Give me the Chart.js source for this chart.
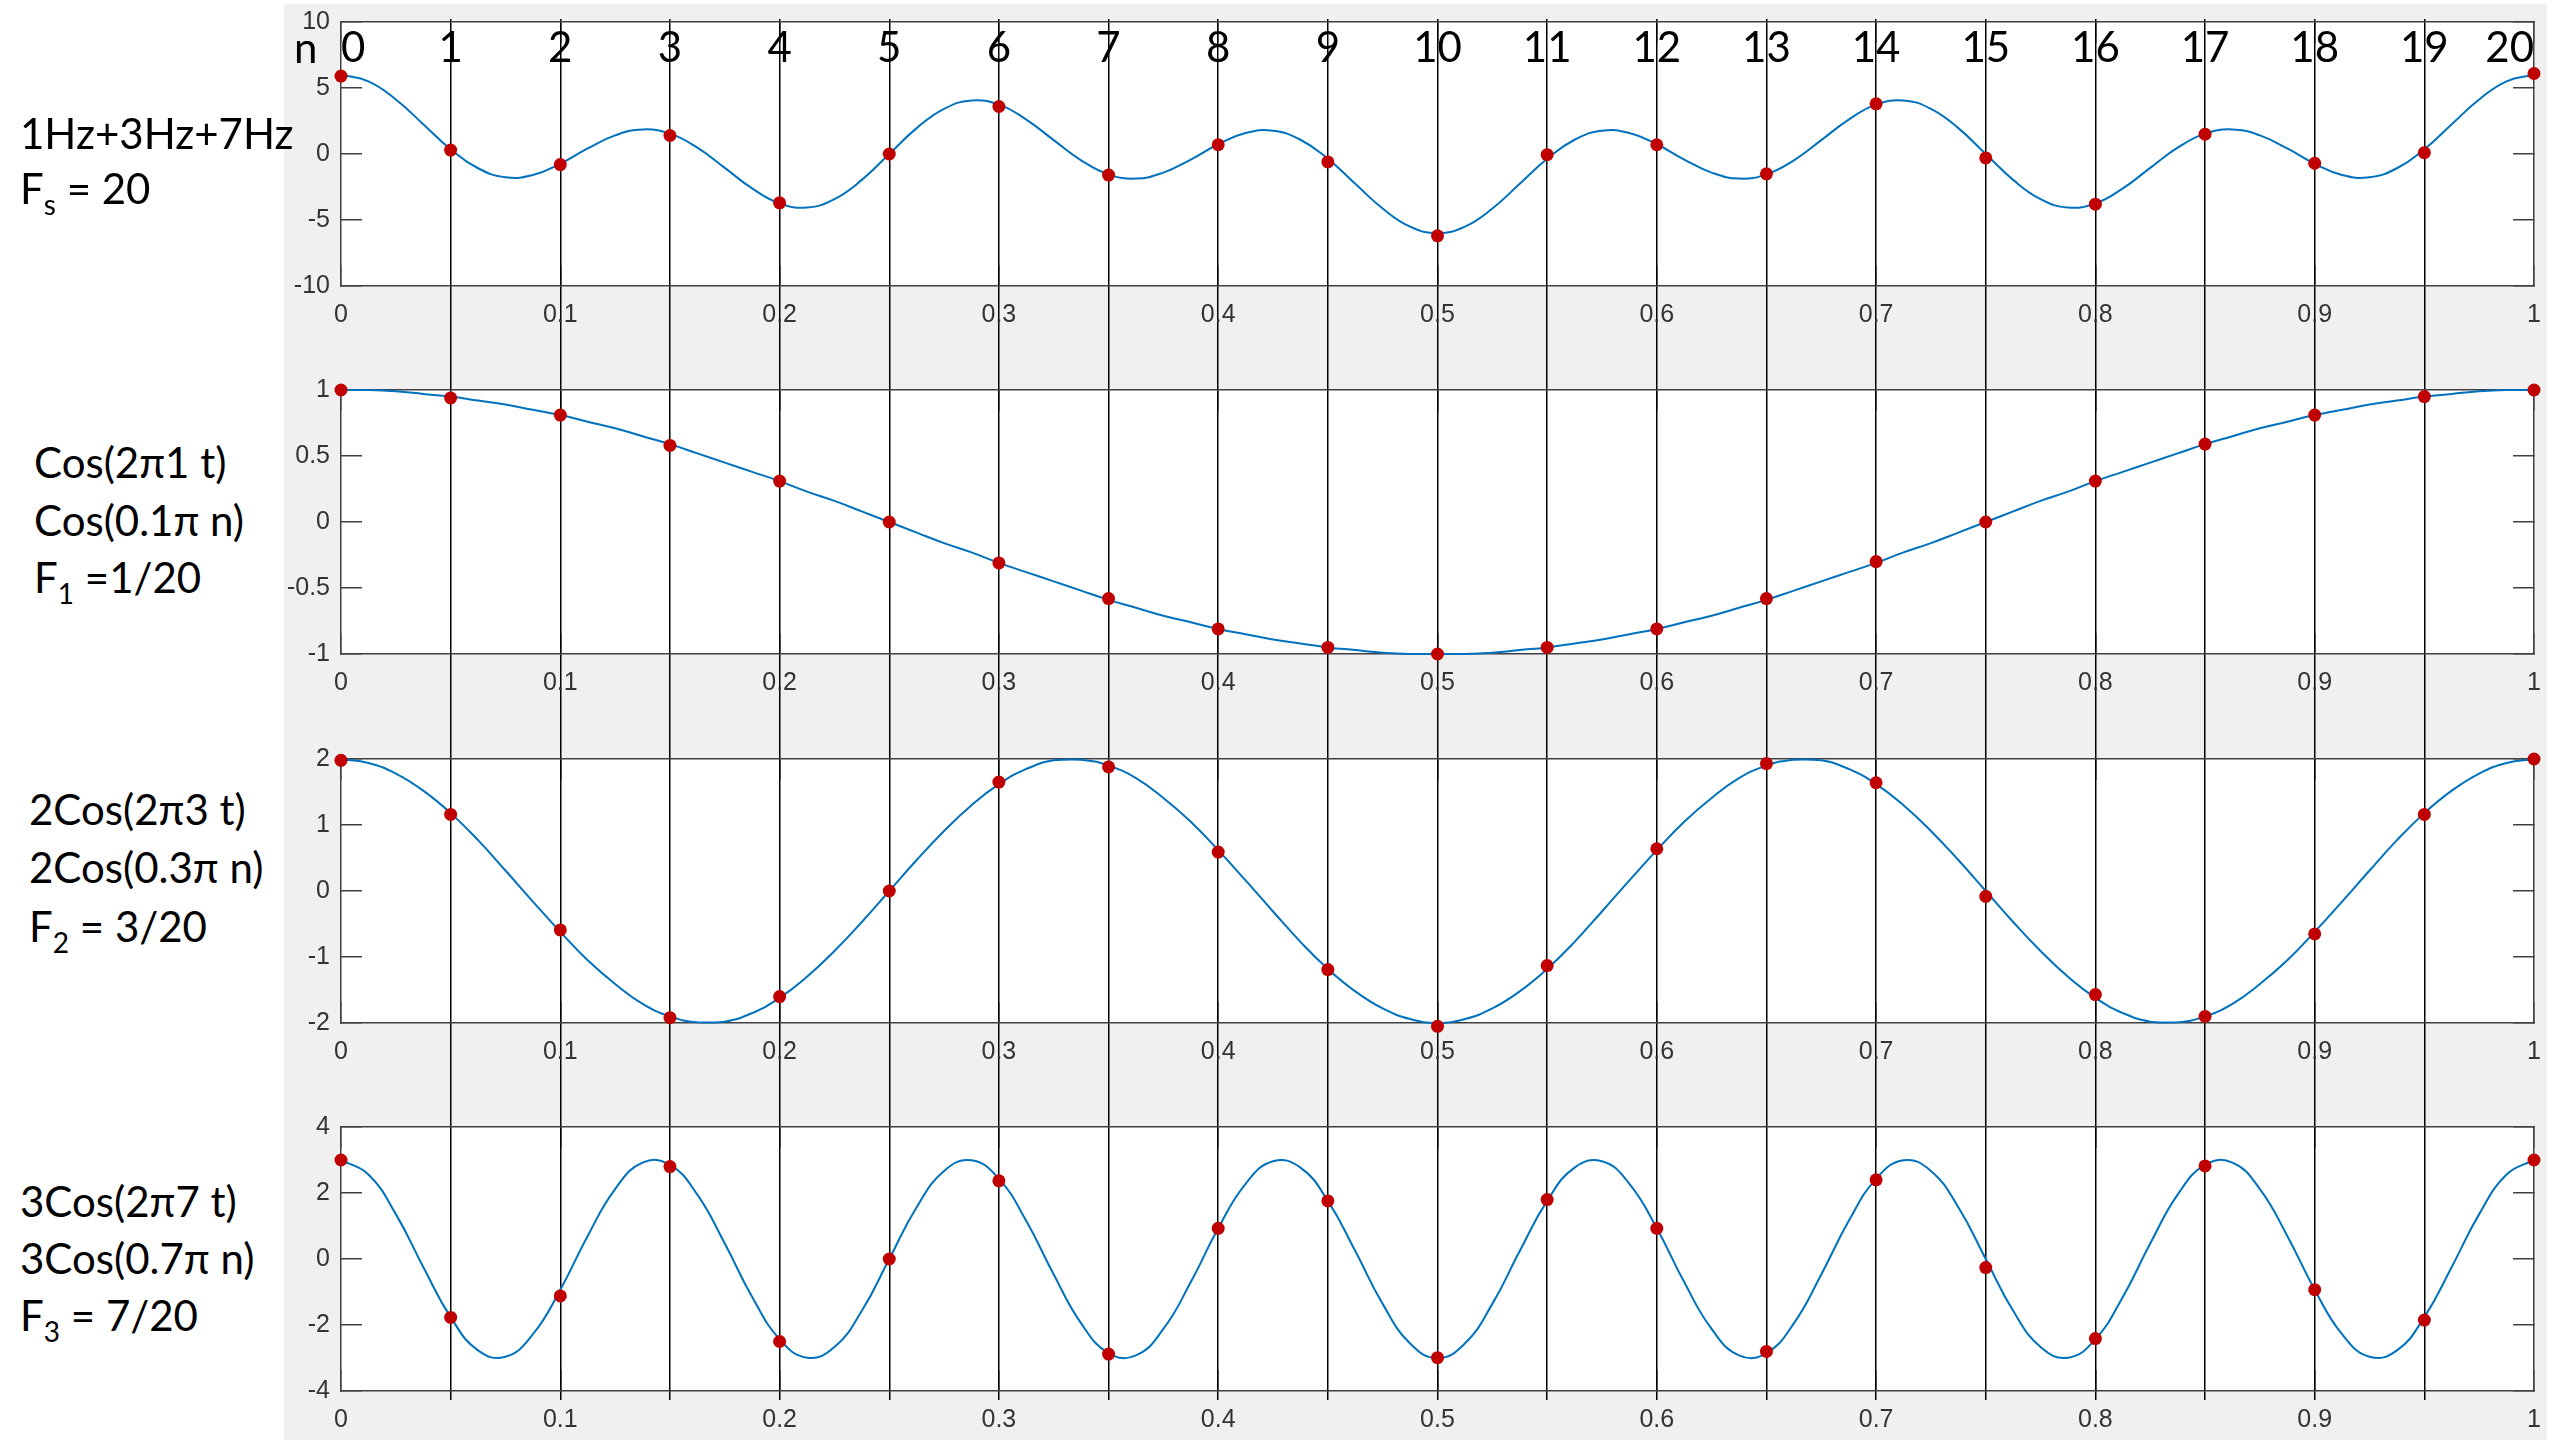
<!DOCTYPE html>
<html>
<head>
<meta charset="utf-8">
<script src="https://cdn.jsdelivr.net/npm/chart.js@4.4.0/dist/chart.umd.min.js"></script>
<style>
  html, body { margin: 0; padding: 0; background: #fff; overflow: hidden; }
  #fig { position: relative; width: 2554px; height: 1440px; }
  #grayBg { position: absolute; left: 284px; top: 4px; width: 2263px; height: 1436px; background: #f0f0f0; }
  canvas { position: absolute; left: 284px; }
  .lbl { position: absolute; font-family: Lato, 'Open Sans', sans-serif; font-size: 42px; line-height: 50px; color: #000; white-space: nowrap; }
  .lbl .sub { font-size: 28px; line-height: 0; position: relative; top: 11px; }
</style>
</head>
<body>
<div id="fig">
  <div id="grayBg"></div>
  <canvas id="overlay" width="2263" height="1440" style="top:0"></canvas>
  <canvas id="p1" width="2263" height="336" style="top:0"></canvas>
  <canvas id="p2" width="2263" height="336" style="top:368px"></canvas>
  <canvas id="p3" width="2263" height="336" style="top:737px"></canvas>
  <canvas id="p4" width="2263" height="336" style="top:1105px"></canvas>

  <div class="lbl" style="left:294px;top:22px">n</div>

  <div class="lbl" style="left:20px;top:108px">1Hz+3Hz+7Hz</div>
  <div class="lbl" style="left:20px;top:163px">F<span class="sub">s</span> = 20</div>

  <div class="lbl" style="left:34px;top:437px">Cos(2π1 t)</div>
  <div class="lbl" style="left:34px;top:495px">Cos(0.1π n)</div>
  <div class="lbl" style="left:34px;top:552px">F<span class="sub">1</span> =1/20</div>

  <div class="lbl" style="left:29px;top:784px">2Cos(2π3 t)</div>
  <div class="lbl" style="left:29px;top:842px">2Cos(0.3π n)</div>
  <div class="lbl" style="left:29px;top:901px">F<span class="sub">2</span> = 3/20</div>

  <div class="lbl" style="left:20px;top:1176px">3Cos(2π7 t)</div>
  <div class="lbl" style="left:20px;top:1233px">3Cos(0.7π n)</div>
  <div class="lbl" style="left:20px;top:1290px">F<span class="sub">3</span> = 7/20</div>
</div>

<script>
// sample instants (t = n / 20) and their n labels
const tSamples = [0, 0.05, 0.1, 0.15, 0.2, 0.25, 0.3, 0.35, 0.4, 0.45, 0.5,
  0.55, 0.6, 0.65, 0.7, 0.75, 0.8, 0.85, 0.9, 0.95, 1];
const nLabels = ['0', '1', '2', '3', '4', '5', '6', '7', '8', '9', '10',
  '11', '12', '13', '14', '15', '16', '17', '18', '19', '20'];

// time axis ticks
const xTicks = [0, 0.1, 0.2, 0.3, 0.4, 0.5, 0.6, 0.7, 0.8, 0.9, 1];

// y ticks of each panel
const yTicks1 = [-10, -5, 0, 5, 10];
const yTicks2 = [-1, -0.5, 0, 0.5, 1];
const yTicks3 = [-2, -1, 0, 1, 2];
const yTicks4 = [-4, -2, 0, 2, 4];

// time points of the continuous (blue) curves
const tFine = [0, 0.0125, 0.025, 0.0375, 0.05, 0.0625, 0.075, 0.0875, 0.1, 0.1125,
  0.125, 0.1375, 0.15, 0.1625, 0.175, 0.1875, 0.2, 0.2125, 0.225, 0.2375,
  0.25, 0.2625, 0.275, 0.2875, 0.3, 0.3125, 0.325, 0.3375, 0.35, 0.3625,
  0.375, 0.3875, 0.4, 0.4125, 0.425, 0.4375, 0.45, 0.4625, 0.475, 0.4875,
  0.5, 0.5125, 0.525, 0.5375, 0.55, 0.5625, 0.575, 0.5875, 0.6, 0.6125,
  0.625, 0.6375, 0.65, 0.6625, 0.675, 0.6875, 0.7, 0.7125, 0.725, 0.7375,
  0.75, 0.7625, 0.775, 0.7875, 0.8, 0.8125, 0.825, 0.8375, 0.85, 0.8625,
  0.875, 0.8875, 0.9, 0.9125, 0.925, 0.9375, 0.95, 0.9625, 0.975, 0.9875, 1];

// continuous signals
const sumCurve = [6, 5.50, 4.13, 2.26, 0.36, -1.08, -1.76, -1.59, -0.74, 0.42,
  1.41, 1.86, 1.54, 0.48, -1.05, -2.61, -3.74, -4.06, -3.42, -1.96,
  0, 1.96, 3.42, 4.06, 3.74, 2.61, 1.05, -0.48, -1.54, -1.86,
  -1.41, -0.42, 0.74, 1.59, 1.76, 1.08, -0.36, -2.26, -4.13, -5.50,
  -6, -5.50, -4.13, -2.26, -0.36, 1.08, 1.76, 1.59, 0.74, -0.42,
  -1.41, -1.86, -1.54, -0.48, 1.05, 2.61, 3.74, 4.06, 3.42, 1.96,
  0, -1.96, -3.42, -4.06, -3.74, -2.61, -1.05, 0.48, 1.54, 1.86,
  1.41, 0.42, -0.74, -1.59, -1.76, -1.08, 0.36, 2.26, 4.13, 5.50, 6];
const cos1Curve = [1, 1.00, 0.99, 0.97, 0.95, 0.92, 0.89, 0.85, 0.81, 0.76,
  0.71, 0.65, 0.59, 0.52, 0.45, 0.38, 0.31, 0.23, 0.16, 0.08,
  0, -0.08, -0.16, -0.23, -0.31, -0.38, -0.45, -0.52, -0.59, -0.65,
  -0.71, -0.76, -0.81, -0.85, -0.89, -0.92, -0.95, -0.97, -0.99, -1.00,
  -1, -1.00, -0.99, -0.97, -0.95, -0.92, -0.89, -0.85, -0.81, -0.76,
  -0.71, -0.65, -0.59, -0.52, -0.45, -0.38, -0.31, -0.23, -0.16, -0.08,
  0, 0.08, 0.16, 0.23, 0.31, 0.38, 0.45, 0.52, 0.59, 0.65,
  0.71, 0.76, 0.81, 0.85, 0.89, 0.92, 0.95, 0.97, 0.99, 1.00, 1];
const cos3Curve = [2, 1.94, 1.78, 1.52, 1.18, 0.77, 0.31, -0.16, -0.62, -1.05,
  -1.41, -1.71, -1.90, -1.99, -1.98, -1.85, -1.62, -1.30, -0.91, -0.47,
  0, 0.47, 0.91, 1.30, 1.62, 1.85, 1.98, 1.99, 1.90, 1.71,
  1.41, 1.05, 0.62, 0.16, -0.31, -0.77, -1.18, -1.52, -1.78, -1.94,
  -2, -1.94, -1.78, -1.52, -1.18, -0.77, -0.31, 0.16, 0.62, 1.05,
  1.41, 1.71, 1.90, 1.99, 1.98, 1.85, 1.62, 1.30, 0.91, 0.47,
  0, -0.47, -0.91, -1.30, -1.62, -1.85, -1.98, -1.99, -1.90, -1.71,
  -1.41, -1.05, -0.62, -0.16, 0.31, 0.77, 1.18, 1.52, 1.78, 1.94, 2];
const cos7Curve = [3, 2.56, 1.36, -0.24, -1.76, -2.77, -2.96, -2.28, -0.93, 0.70,
  2.12, 2.92, 2.85, 1.95, 0.47, -1.15, -2.43, -2.99, -2.67, -1.57,
  0, 1.57, 2.67, 2.99, 2.43, 1.15, -0.47, -1.95, -2.85, -2.92,
  -2.12, -0.70, 0.93, 2.28, 2.96, 2.77, 1.76, 0.24, -1.36, -2.56,
  -3, -2.56, -1.36, 0.24, 1.76, 2.77, 2.96, 2.28, 0.93, -0.70,
  -2.12, -2.92, -2.85, -1.95, -0.47, 1.15, 2.43, 2.99, 2.67, 1.57,
  0, -1.57, -2.67, -2.99, -2.43, -1.15, 0.47, 1.95, 2.85, 2.92,
  2.12, 0.70, -0.93, -2.28, -2.96, -2.77, -1.76, -0.24, 1.36, 2.56, 3];

// sampled values (red dots)
const sumSamples = [5.9, 0.3, -0.8, 1.4, -3.7, 0, 3.6, -1.6, 0.7, -0.6, -6.2,
  -0.05, 0.7, -1.5, 3.8, -0.3, -3.8, 1.5, -0.7, 0.1, 6.1];
const cos1Samples = [1, 0.94, 0.81, 0.58, 0.31, 0, -0.31, -0.58, -0.81, -0.95, -1,
  -0.95, -0.81, -0.58, -0.3, 0, 0.31, 0.59, 0.81, 0.95, 1];
const cos3Samples = [1.98, 1.16, -0.59, -1.92, -1.6, 0, 1.65, 1.88, 0.59, -1.19, -2.05,
  -1.13, 0.64, 1.93, 1.64, -0.08, -1.57, -1.9, -0.65, 1.16, 2];
const cos7Samples = [3, -1.77, -1.12, 2.8, -2.5, 0, 2.37, -2.88, 0.93, 1.76, -2.99,
  1.8, 0.93, -2.8, 2.4, -0.26, -2.41, 2.82, -0.93, -1.85, 3];

// styles
var axisColor = '#404040';
var tickFont = { family: "'Liberation Sans', Arial, sans-serif", size: 25 };
var nFont = { family: "Lato, 'Open Sans', sans-serif", size: 42 };

// white plot box behind everything
var plotBg = {
  id: 'plotBg',
  beforeDraw: function (chart) {
    var a = chart.chartArea, ctx = chart.ctx;
    ctx.save();
    ctx.fillStyle = '#fff';
    ctx.fillRect(a.left, a.top, a.right - a.left, a.bottom - a.top);
    ctx.restore();
  }
};

function pts(xs, ys) {
  return xs.map(function (x, i) { return { x: x, y: ys[i] }; });
}
function setTicks(vals) {
  return function (s) { s.ticks = vals.map(function (v) { return { value: v }; }); };
}
// fixed axis box, and no extra room for labels that hang past the ends
function fixSize(w, h) {
  return function (s) {
    if (w !== null) s.width = w;
    if (h !== null) s.height = h;
    s.paddingTop = 0;
    s.paddingBottom = 0;
    s.paddingLeft = 0;
    s.paddingRight = 0;
  };
}
function plainLabel(v) { return String(v); }

// vertical sample lines: none over the two box edges
function sampleLineColor(c) {
  return (c.index === 0 || c.index === tSamples.length - 1) ? 'rgba(0,0,0,0)' : '#000';
}

function tickGrid() {
  return { drawOnChartArea: false, drawTicks: true, tickLength: -21, color: axisColor, lineWidth: 1.5 };
}

function makePanel(id, curve, samples, yTicks, showN) {
  return new Chart(document.getElementById(id), {
    type: 'scatter',
    data: {
      datasets: [{
        type: 'line',
        data: pts(tFine, curve),
        borderColor: '#0072bd',
        borderWidth: 2,
        pointRadius: 0,
        tension: 0.45,
        clip: false,
        order: 2
      }, {
        data: pts(tSamples, samples),
        backgroundColor: '#c00000',
        borderWidth: 0,
        pointRadius: 6.5,
        clip: false,
        order: 1
      }]
    },
    options: {
      responsive: false,
      animation: false,
      devicePixelRatio: 1,
      events: [],
      layout: { padding: { top: 22, left: 0, right: 0, bottom: 0 } },
      plugins: { legend: { display: false }, tooltip: { enabled: false } },
      scales: {
        x: {
          type: 'linear', position: 'bottom', min: 0, max: 1,
          afterBuildTicks: setTicks(xTicks), afterFit: fixSize(null, 50),
          grid: tickGrid(),
          border: { color: axisColor, width: 1.5 },
          ticks: { font: tickFont, color: '#333', padding: 35, maxRotation: 0, autoSkip: false, callback: plainLabel }
        },
        xTop: {
          type: 'linear', axis: 'x', position: 'top', min: 0, max: 1,
          afterBuildTicks: setTicks(xTicks), afterFit: fixSize(null, 0),
          grid: tickGrid(),
          border: { color: axisColor, width: 1.5 },
          ticks: { display: false }
        },
        nLines: {
          type: 'linear', axis: 'x', position: 'top', min: 0, max: 1,
          afterBuildTicks: setTicks(tSamples), afterFit: fixSize(null, 0),
          grid: { drawOnChartArea: true, drawTicks: false, color: sampleLineColor, lineWidth: 1.5 },
          border: { display: false },
          ticks: {
            display: showN, mirror: true, padding: 1, autoSkip: false, maxRotation: 0,
            align: 'inner',
            font: nFont, color: '#000',
            callback: function (v, i) { return nLabels[i]; }
          }
        },
        y: {
          type: 'linear', position: 'left', min: yTicks[0], max: yTicks[yTicks.length - 1],
          afterBuildTicks: setTicks(yTicks), afterFit: fixSize(57, null),
          grid: tickGrid(),
          border: { color: axisColor, width: 1.5 },
          ticks: { font: tickFont, color: '#333', padding: 32, callback: plainLabel }
        },
        yRight: {
          type: 'linear', axis: 'y', position: 'right', min: yTicks[0], max: yTicks[yTicks.length - 1],
          afterBuildTicks: setTicks(yTicks), afterFit: fixSize(13, null),
          grid: tickGrid(),
          border: { color: axisColor, width: 1.5 },
          ticks: { display: false }
        }
      }
    },
    plugins: [plotBg]
  });
}

// sample lines running down through all four panels
var overlayChart = new Chart(document.getElementById('overlay'), {
  type: 'scatter',
  data: { datasets: [] },
  options: {
    responsive: false,
    animation: false,
    devicePixelRatio: 1,
    events: [],
    layout: { padding: { left: 57, right: 13, top: 19, bottom: 40 } },
    plugins: { legend: { display: false }, tooltip: { enabled: false } },
    scales: {
      x: {
        type: 'linear', min: 0, max: 1,
        afterBuildTicks: setTicks(tSamples), afterFit: fixSize(null, 0),
        grid: { drawOnChartArea: true, drawTicks: false, color: sampleLineColor, lineWidth: 1.5 },
        border: { display: false },
        ticks: { display: false }
      },
      y: { display: false, min: 0, max: 1 }
    }
  }
});

var chart1 = makePanel('p1', sumCurve, sumSamples, yTicks1, true);
var chart2 = makePanel('p2', cos1Curve, cos1Samples, yTicks2, false);
var chart3 = makePanel('p3', cos3Curve, cos3Samples, yTicks3, false);
var chart4 = makePanel('p4', cos7Curve, cos7Samples, yTicks4, false);
</script>
</body>
</html>
